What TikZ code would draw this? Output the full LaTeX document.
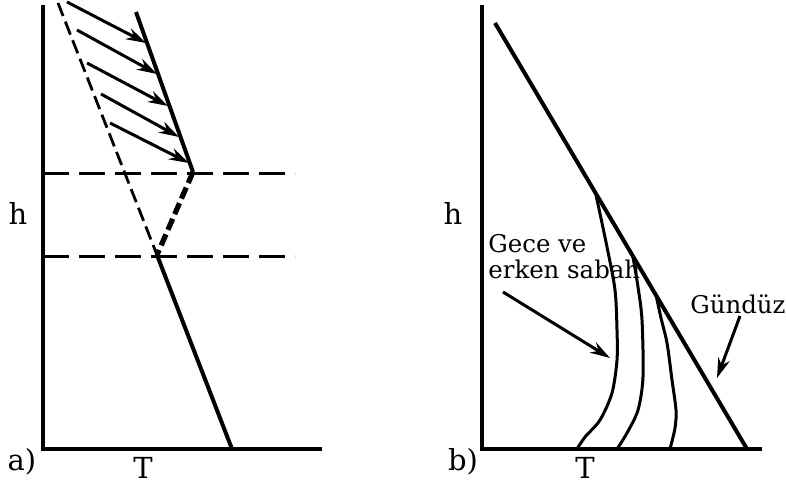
\documentclass[tikz,border=0pt]{standalone}
\usepackage{fontspec}
\setmainfont{DejaVu Serif}
\usepackage{tikz}
\usetikzlibrary{arrows.meta}

\begin{document}
\begin{tikzpicture}[
      x=0.5pt, y=-0.5pt,
      ax/.style={line width=2pt, line join=miter},
      prof/.style={line width=2pt},
      guide/.style={line width=1.5pt, dash pattern=on 13pt off 5pt},
      oldprof/.style={line width=1.4pt, dash pattern=on 7pt off 3pt},
      invprof/.style={line width=2.6pt, dash pattern=on 6pt off 2.5pt},
      heat/.style={line width=1.5pt, -{Stealth[length=10pt,width=6pt]}},
      pointer/.style={line width=1.5pt, -{Stealth[length=10pt,width=6pt]}},
      curve/.style={line width=1.5pt},
      axlbl/.style={inner sep=0pt, font=\fontsize{14.5}{14.5}\selectfont},
      lbl/.style={inner sep=0pt, font=\fontsize{12.2}{13}\selectfont}
    ]
    \useasboundingbox (0,0) rectangle (786,492);

    % a)
    \coordinate (aTop) at (43,5);
    \coordinate (aO) at (43,449);
    \coordinate (aEnd) at (322,449);
    \draw[ax] (aTop) -- (aO) -- (aEnd);
    \coordinate (g1l) at (43,173);
    \coordinate (g1r) at (295,173);
    \coordinate (g2l) at (43,256);
    \coordinate (g2r) at (295,256);
    \draw[guide] (g1l) -- (g1r);
    \draw[guide] (g2l) -- (g2r);
    \coordinate (pTop) at (136,12);
    \coordinate (pKnee) at (193,172);
    \coordinate (pLow) at (157,255);
    \coordinate (pGround) at (232,449);
    \coordinate (oTop) at (58,3);
    \draw[prof] (pTop) -- (pKnee);
    \draw[invprof] (pKnee) -- (pLow);
    \draw[prof] (pLow) -- (pGround);
    \draw[oldprof] (oTop) -- (pLow);
    \foreach \sx/\sy/\ex/\ey in {67/2/146/43, 77/30/157/74, 87/63/168/106,
                                 101/94/179/137, 110/123/189/163}
      \draw[heat] (\sx,\sy) -- (\ex,\ey);
    \node[axlbl] (ha) at (18,213) {h};
    \node[axlbl] (la) at (22,462) {a)};
    \node[axlbl] (Ta) at (143,468) {T};

    % b)
    \coordinate (bTop) at (482,5);
    \coordinate (bO) at (482,449);
    \coordinate (bEnd) at (762,449);
    \draw[ax] (bTop) -- (bO) -- (bEnd);
    \coordinate (dTop) at (495,23);
    \coordinate (dGround) at (747,449);
    \draw[prof] (dTop) -- (dGround);
    \draw[curve] plot[smooth] coordinates {(596,195) (607,247) (615,290) (617,330)
      (617,360) (612,393) (600,420) (585,437) (577,449)};
    \draw[curve] plot[smooth] coordinates {(633,257) (638,287) (642,320) (643,377)
      (638,410) (627,433) (617,449)};
    \draw[curve] plot[smooth] coordinates {(656,295) (661,318) (667,343) (672,380)
      (676,410) (675,428) (670,449)};
    \node[axlbl] (hb) at (453,213) {h};
    \node[axlbl] (lb) at (463,462) {b)};
    \node[axlbl] (Tb) at (585,468) {T};
    \node[lbl, align=left, anchor=base west] (gece) at (488,278) {Gece ve\\erken sabah};
    \node[lbl, anchor=base west] (gunduz) at (690,313) {Gündüz};
    \coordinate (geceStart) at (503,292);
    \coordinate (geceEnd) at (610,358);
    \coordinate (gunduzStart) at (740,316);
    \coordinate (gunduzEnd) at (717,378);
    \draw[pointer] (geceStart) -- (geceEnd);
    \draw[pointer] (gunduzStart) -- (gunduzEnd);
  \end{tikzpicture}
\end{document}
